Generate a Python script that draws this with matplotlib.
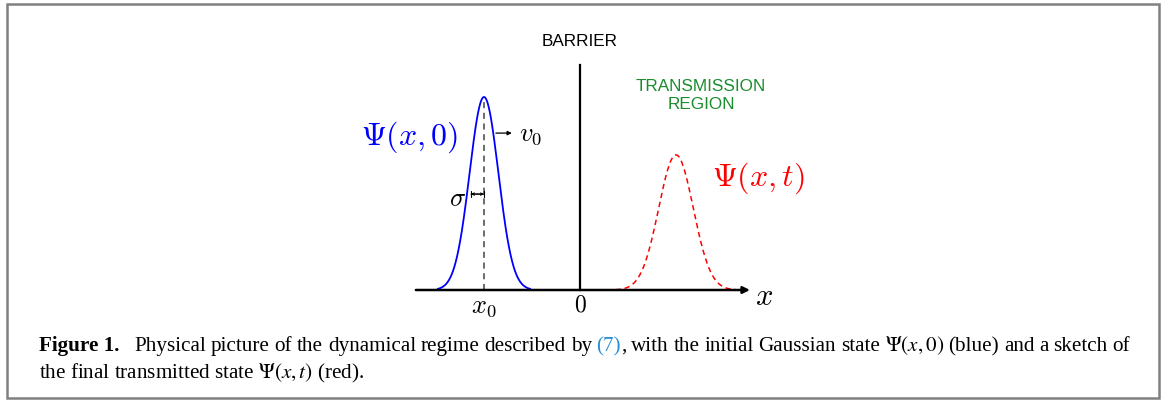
import numpy as np
import matplotlib.pyplot as plt
from matplotlib.patches import Rectangle
from matplotlib.font_manager import FontProperties

# wave packet parameters (arbitrary units, barrier at x = 0)
x_initial = -5.0
sigma_initial = 0.75
amp_initial = 1.0
x_final = 5.0
sigma_final = 0.9
amp_final = 0.70
barrier_height = 1.165
axis_range = [-8.55, 8.85]

W, H = 1165, 400
fig = plt.figure(figsize=(W / 100, H / 100), dpi=100)
ax = fig.add_axes([0, 0, 1, 1])
ax.set_xlim(-580 / 19.2, (W - 580) / 19.2)
ax.set_ylim(-(H - 290) / 193, 290 / 193)
ax.axis("off")


def gaussian(x, x0, s, a):
    return a * np.exp(-(x - x0) ** 2 / (2 * s ** 2))


def cmfont(size):
    return FontProperties(size=size, math_fontfamily="cm")


# initial packet (blue)
xb = np.linspace(x_initial - 3.2 * sigma_initial, x_initial + 3.2 * sigma_initial, 300)
ax.plot(xb, gaussian(xb, x_initial, sigma_initial, amp_initial), color="#0000ff", lw=1.3, zorder=3)
ax.plot([x_initial, x_initial], [0, amp_initial], color="#444444", lw=1.1, ls=(0, (4, 3)), zorder=2)

# transmitted packet (red)
xr = np.linspace(x_final - 3.5 * sigma_final, x_final + 3.5 * sigma_final, 300)
ax.plot(xr, gaussian(xr, x_final, sigma_final, amp_final), color="#ff0000", lw=1.1, ls=(0, (3.5, 2.5)), zorder=3)

# x axis with arrow
ax.annotate("", xy=(axis_range[1], 0), xytext=(axis_range[0], 0),
            arrowprops=dict(arrowstyle="-|>", color="black", lw=1.8, mutation_scale=10,
                            shrinkA=0, shrinkB=0), zorder=4)

# barrier
ax.plot([0, 0], [0, barrier_height], color="black", lw=1.6, zorder=4)
ax.text(0, 1.285, "BARRIER", ha="center", va="center", fontsize=12.3, family="Liberation Sans")
ax.text(6.3, 1.008, "TRANSMISSION\nREGION", ha="center", va="center", fontsize=12.3,
        family="Liberation Sans", color="#1a8c2e", linespacing=1.25)

ax.text(-6.35, 0.79, r"$\Psi(x,0)$", ha="right", va="center", color="#0000ff", fontproperties=cmfont(23))
ax.text(6.85, 0.58, r"$\Psi(x,t)$", ha="left", va="center", color="#ff0000", fontproperties=cmfont(23))

# velocity arrow
ax.annotate("", xy=(-3.55, 0.813), xytext=(-4.38, 0.813),
            arrowprops=dict(arrowstyle="-|>", color="black", lw=0.9, mutation_scale=6,
                            shrinkA=0, shrinkB=0))
ax.text(-3.2, 0.81, r"$v_0$", ha="left", va="center", fontproperties=cmfont(19))

# width marker
ax.annotate("", xy=(x_initial, 0.497), xytext=(x_initial - 0.68, 0.497),
            arrowprops=dict(arrowstyle="|-|", color="black", lw=0.8, mutation_scale=2,
                            shrinkA=0, shrinkB=0))
ax.annotate("", xy=(x_initial, 0.497), xytext=(x_initial - 0.68, 0.497),
            arrowprops=dict(arrowstyle="<->", color="black", lw=0.8, mutation_scale=4,
                            shrinkA=0, shrinkB=0))
ax.text(-5.95, 0.47, r"$\sigma$", ha="right", va="center", fontproperties=cmfont(19))

# tick labels
ax.text(x_initial, -0.015, r"$x_0$", ha="center", va="top", fontproperties=cmfont(19))
ax.text(0, -0.015, r"$0$", ha="center", va="top", fontproperties=cmfont(17))
ax.text(9.1, -0.035, r"$x$", ha="left", va="center", fontproperties=cmfont(22))

# caption, first line justified between left and right margins
cap = FontProperties(family="Liberation Serif", size=15.2, math_fontfamily="stix")
capb = FontProperties(family="Liberation Serif", size=15.2, weight="bold")
blue_ref = "#2a8fd8"
line1 = [[("Figure 1.", capb, "black")]]
line1 += [[(w, cap, "black")] for w in "Physical picture of the dynamical regime described by".split()]
line1 += [[("(7)", cap, blue_ref), (",", cap, "black")]]
line1 += [[(w, cap, "black")] for w in
          r"with the initial Gaussian state $\Psi(x,0)$ (blue) and a sketch of".split()]

left, right = 39, 1130
base1 = H - 351
renderer = fig.canvas.get_renderer()
groups = []
for group in line1:
    pieces = []
    for s, fp, c in group:
        t = fig.text(0, base1 / H, s, fontproperties=fp, color=c, va="baseline")
        pieces.append((t, t.get_window_extent(renderer).width))
    groups.append(pieces)
widths = [sum(w for _, w in g) for g in groups]
first_gap = 15
gap = (right - left - sum(widths) - first_gap) / (len(groups) - 2)
x = left
for i, g in enumerate(groups):
    for t, w in g:
        t.set_x(x / W)
        x += w
    x += first_gap if i == 0 else gap

fig.text(left / W, 1 - 378 / H, r"the final transmitted state $\Psi(x,t)$ (red).", fontproperties=cap,
         va="baseline")

# frame around figure
fig.patches.append(Rectangle((7 / W, 2 / H), 1152 / W, 394 / H, transform=fig.transFigure,
                             fill=False, edgecolor="#808080", lw=1.8))

fig.savefig("out.png", dpi=100)
